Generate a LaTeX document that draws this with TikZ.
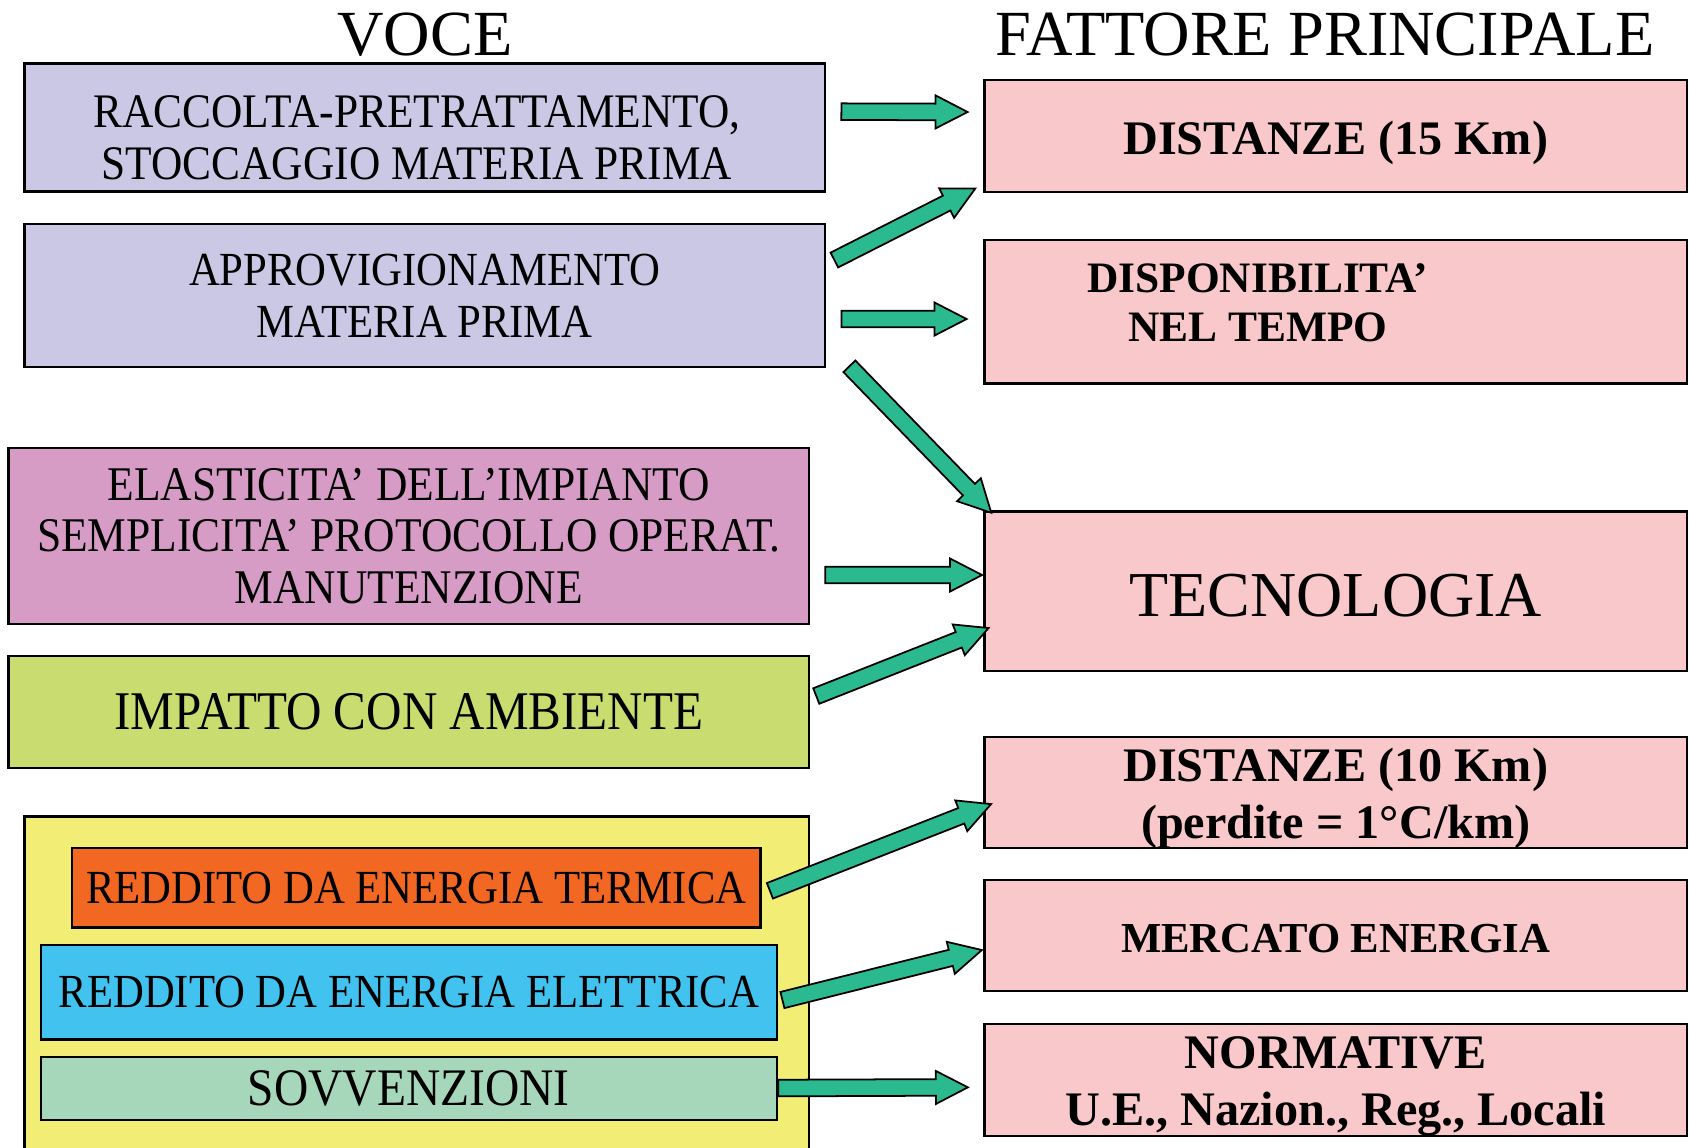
\documentclass[tikz,border=0pt]{standalone}
\usepackage{fontspec}
\setmainfont{Liberation Serif}
\newfontfamily\narrowfont{Liberation Serif}[FakeStretch=0.9]
\usetikzlibrary{calc}
\definecolor{lavanda}{RGB}{203,200,230}
\definecolor{malva}{RGB}{214,156,198}
\definecolor{pisello}{RGB}{201,220,112}
\definecolor{giallo}{RGB}{242,237,117}
\definecolor{arancio}{RGB}{242,103,34}
\definecolor{celeste}{RGB}{66,195,239}
\definecolor{salvia}{RGB}{167,215,186}
\definecolor{rosa}{RGB}{249,200,202}
\definecolor{freccia}{RGB}{43,186,143}
\def\vocenode{\node[voce]}
\def\fattnode{\node[fattore]}
\def\fatttxt{\node[fattoretxt]}
% fat green block arrow from #1 to #2
\newcommand\fatarrow[2]{\path[fat] let \p1=($(#2)-(#1)$), \n1={atan2(\y1,\x1)}, \n2={veclen(\x1,\y1)} in
  [shift={(#1)},rotate=\n1] (0,-0.083cm) -- ({\n2*1pt-0.32cm},-0.083cm) -- ({\n2*1pt-0.32cm},-0.165cm)
  -- ({\n2*1pt},0) -- ({\n2*1pt-0.32cm},0.165cm) -- ({\n2*1pt-0.32cm},0.083cm) -- (0,0.083cm) -- cycle;}

\begin{document}
\begin{tikzpicture}[x=0.01cm,y=-0.01cm,
  cornice/.style={draw=black,line width=0.7pt,inner sep=0pt,align=center},
  voce/.style={cornice,minimum width=8cm,font=\narrowfont\fontsize{13.5}{14.7}\selectfont},
  vocetxt/.style={align=center,inner sep=0pt,font=\narrowfont\fontsize{13.7}{14.7}\selectfont},
  fattore/.style={cornice,fill=rosa,minimum width=7.025cm,minimum height=1.12cm},
  fattoretxt/.style={align=center,inner sep=0pt,font=\bfseries\fontsize{13.7}{16.2}\selectfont},
  titolo/.style={inner sep=0pt,font=\fontsize{18.3}{21}\selectfont},
  fat/.style={fill=freccia,draw=black,line width=0.5pt}]
\useasboundingbox (0,0) rectangle (1689,1147);

% ---------- titles
\node[titolo] (voce) at (425,35) {VOCE};
\node[titolo] (fattore) at (1325,34.5) {FATTORE PRINCIPALE};

% ---------- left column, the items
\vocenode[fill=lavanda,minimum height=1.28cm] (raccolta) at (424.9,127.65) {};
\node[vocetxt] (raccoltatxt) at ($ (raccolta) + (-8,10) $) {RACCOLTA-PRETRATTAMENTO,\\STOCCAGGIO MATERIA PRIMA}; % text sits low in its box
\vocenode[fill=lavanda,minimum height=1.43cm] (approv) at (424.9,295.5) {APPROVIGIONAMENTO\\MATERIA PRIMA};
\vocenode[fill=malva,minimum height=1.76cm,font=\narrowfont\fontsize{13.75}{14.7}\selectfont] (elastic) at (408.8,536) {ELASTICITA’ DELL’IMPIANTO\\SEMPLICITA’ PROTOCOLLO OPERAT.\\MANUTENZIONE};
\vocenode[fill=pisello,minimum height=1.12cm,font=\narrowfont\fontsize{15.5}{18}\selectfont] (impatto) at (408.8,712) {IMPATTO CON AMBIENTE};

% ---------- revenues, inside the yellow frame
\node[cornice,fill=giallo,minimum width=7.842cm,minimum height=3.43cm] (ricavi) at (416.9,988) {};
\vocenode[fill=arancio,minimum width=6.885cm,minimum height=0.795cm] (termica) at (416.25,887.75) {REDDITO DA ENERGIA TERMICA};
\vocenode[fill=celeste,minimum width=7.357cm,minimum height=0.945cm] (elettrica) at (408.85,992.25) {REDDITO DA ENERGIA ELETTRICA};
\vocenode[fill=salvia,minimum width=7.357cm,minimum height=0.63cm,font=\narrowfont\fontsize{15}{18}\selectfont] (sovv) at (408.85,1088.5) {SOVVENZIONI};

% ---------- right column, main factors (texts set apart, they sit a bit low)
\fattnode (dist15) at (1335.75,136) {};
\fatttxt (dist15txt) at ($ (dist15) + (0,6.5) $) {DISTANZE (15 Km)};
\fattnode[minimum height=1.435cm] (disp) at (1335.75,311.75) {};
\fatttxt[font=\bfseries\fontsize{12.35}{14}\selectfont] (disptxt) at ($ (disp) + (-78,-9) $) {DISPONIBILITA’\\NEL TEMPO};
\fattnode[minimum height=1.593cm] (tecno) at (1335.75,591.35) {};
\fatttxt[font=\fontsize{18.2}{21}\selectfont] (tecnotxt) at ($ (tecno) + (0,4.3) $) {TECNOLOGIA};
\fattnode[minimum height=1.11cm] (dist10) at (1335.75,792.5) {};
\fatttxt (dist10txt) at ($ (dist10) + (0,5.4) $) {DISTANZE (10 Km)\\(perdite = 1°C/km)};
\fattnode[minimum height=1.11cm] (mercato) at (1335.75,935.5) {};
\fatttxt[font=\bfseries\fontsize{12.15}{15}\selectfont] (mercatotxt) at ($ (mercato) + (0,3.2) $) {MERCATO ENERGIA};
\fattnode (norm) at (1335.75,1080) {};
\fatttxt (normtxt) at ($ (norm) + (0,6.5) $) {NORMATIVE\\U.E., Nazion., Reg., Locali};

% ---------- arrows, ends are free points near the boxes
\coordinate (a1s) at ($ (raccolta.east) + (15,-16) $);
\coordinate (a1e) at ($ (dist15.west) + (-15.5,-24) $);
\coordinate (a2s) at ($ (approv.east) + (8,-35.5) $);
\coordinate (a2e) at ($ (dist15.south west) + (-7.8,-4.7) $);
\coordinate (a3s) at ($ (approv.east) + (15,23.5) $);
\coordinate (a3e) at ($ (disp.west) + (-16.5,7.25) $);
\coordinate (a4s) at ($ (approv.south east) + (23,-2) $);
\coordinate (a4e) at ($ (tecno.north west) + (8.2,2.3) $);
\coordinate (a5s) at ($ (elastic.east) + (15,39) $);
\coordinate (a5e) at ($ (tecno.west) + (-1,-16.35) $);
\coordinate (a6s) at ($ (impatto.east) + (6,-16) $);
\coordinate (a6e) at ($ (tecno.west) + (5.5,36.65) $);
\coordinate (a7s) at ($ (termica.east) + (8,3) $);
\coordinate (a7e) at ($ (dist10.west) + (8.2,11.5) $);
\coordinate (a8s) at ($ (elettrica.east) + (4.3,7.75) $);
\coordinate (a8e) at ($ (mercato.west) + (-1.2,14.5) $);
\coordinate (a9s) at ($ (sovv.east) + (0,-0.5) $);
\coordinate (a9e) at ($ (norm.west) + (-15.2,7.3) $);
\fatarrow{a1s}{a1e}
\fatarrow{a2s}{a2e}
\fatarrow{a3s}{a3e}
\fatarrow{a4s}{a4e}
\fatarrow{a5s}{a5e}
\fatarrow{a6s}{a6e}
\fatarrow{a7s}{a7e}
\fatarrow{a8s}{a8e}
\fatarrow{a9s}{a9e}
\end{tikzpicture}
\end{document}
